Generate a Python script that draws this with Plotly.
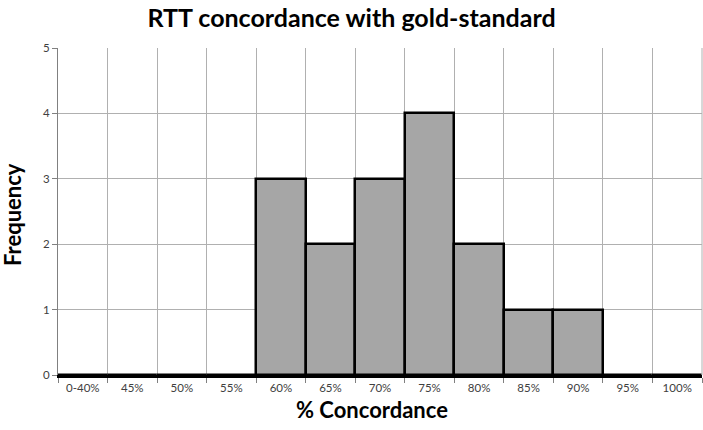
import plotly.graph_objects as go

categories = ["0-40%", "45%", "50%", "55%", "60%", "65%", "70%", "75%", "80%", "85%", "90%", "95%", "100%"]
frequency = [0, 0, 0, 0, 3, 2, 3, 4, 2, 1, 1, 0, 0]

fig = go.Figure(go.Bar(
    x=categories, y=frequency,
    marker=dict(color="#a6a6a6", line=dict(color="black", width=2.5)),
))

fig.update_layout(
    width=703, height=430,
    margin=dict(l=58, r=1, t=48, b=55, autoexpand=False),
    paper_bgcolor="white", plot_bgcolor="white",
    bargap=0,
    showlegend=False,
    font=dict(family="Lato, sans-serif", color="#404040"),
    title=dict(text="<b>RTT concordance with gold-standard</b>", x=0.5, xanchor="center", xref="container",
               y=0.958, yanchor="middle", yref="container", font=dict(size=25, color="black", family="Lato")),
)
fig.update_xaxes(
    type="category", tickson="boundaries", showgrid=True, gridcolor="#b0b0b0", gridwidth=1,
    ticks="outside", ticklen=5, tickcolor="#808080",
    showline=True, linecolor="black", linewidth=3,
    tickfont=dict(size=11.5, color="#404040"),
    range=[-0.5, 12.5], automargin=False,
)
fig.update_yaxes(
    range=[0, 5], dtick=1, showgrid=True, gridcolor="#b0b0b0", gridwidth=1,
    ticks="outside", ticklen=5, tickcolor="#808080",
    showline=True, linecolor="#808080", linewidth=1,
    tickfont=dict(size=11.5, color="#404040"),
    zeroline=False, automargin=False,
)
fig.add_annotation(text="<b>% Concordance</b>", xref="paper", yref="paper", x=0.487, y=-0.107,
                   xanchor="center", yanchor="middle", showarrow=False,
                   font=dict(size=22, color="black", family="Lato"))
fig.add_annotation(text="<b>Frequency</b>", xref="paper", yref="paper", x=-0.071, y=0.49,
                   xanchor="center", yanchor="middle", showarrow=False, textangle=-90,
                   font=dict(size=22, color="black", family="Lato"))
# right border of plot area gridline
fig.add_shape(type="line", xref="paper", yref="paper", x0=1, x1=1, y0=0, y1=1,
              line=dict(color="#b0b0b0", width=1))

fig.write_html("out.html", config={"displayModeBar": False},
               post_script="document.body.style.margin='0';document.body.style.overflow='hidden';")
